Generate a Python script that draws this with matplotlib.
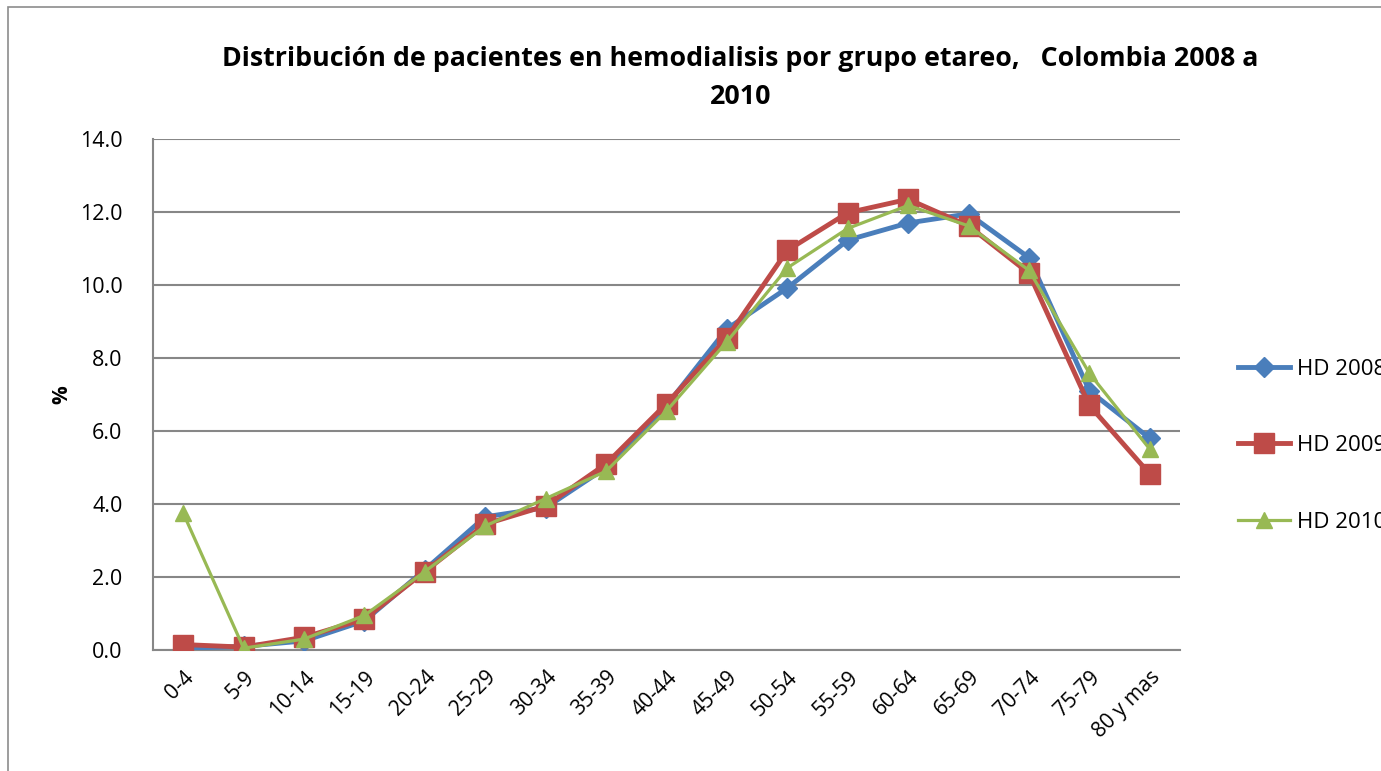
import numpy as np
import matplotlib.pyplot as plt
from matplotlib.patches import Rectangle

grupos = ["0-4", "5-9", "10-14", "15-19", "20-24", "25-29", "30-34", "35-39",
          "40-44", "45-49", "50-54", "55-59", "60-64", "65-69", "70-74",
          "75-79", "80 y mas"]
hd_2008 = [0.05, 0.1, 0.25, 0.8, 2.2, 3.65, 3.9, 5.0, 6.7, 8.8, 9.92,
           11.23, 11.7, 11.95, 10.75, 7.1, 5.8]
hd_2009 = [0.15, 0.08, 0.35, 0.85, 2.15, 3.45, 3.95, 5.1, 6.75, 8.55, 10.95,
           11.98, 12.35, 11.62, 10.32, 6.7, 4.82]
hd_2010 = [3.75, 0.05, 0.3, 0.95, 2.15, 3.4, 4.15, 4.9, 6.55, 8.45, 10.47,
           11.55, 12.18, 11.62, 10.4, 7.58, 5.5]

plt.rcParams['font.family'] = ['Open Sans', 'DejaVu Sans']

fig = plt.figure(figsize=(13.81, 7.71), dpi=100)
ax = fig.add_axes([0.1108, 0.1569, 0.7437, 0.6628])

# marco del grafico
fig.patches.append(Rectangle((8 / 1381, -0.1), 1.2, 1 - 7 / 771 + 0.1,
                             transform=fig.transFigure, fill=False,
                             edgecolor='#8c8c8c', linewidth=1.2))

x = np.arange(len(grupos))
ax.plot(x, hd_2008, color='#4A7EBB', lw=3.5, marker='D', ms=10,
        label='HD 2008', zorder=3)
ax.plot(x, hd_2009, color='#BE4B48', lw=3.5, marker='s', ms=14,
        label='HD 2009', zorder=4)
ax.plot(x, hd_2010, color='#98B954', lw=2.3, marker='^', ms=11,
        label='HD 2010', zorder=5)

ax.set_xlim(-0.5, len(grupos) - 0.5)
ax.set_ylim(0, 14)
ax.set_yticks(np.arange(0, 15, 2))
ax.set_yticklabels([f"{v:.1f}" for v in np.arange(0, 15, 2)], fontsize=15.5)
ax.set_xticks(x)
ax.set_xticklabels(grupos, rotation=45, ha='right', rotation_mode='anchor',
                   fontsize=15)
ax.tick_params(length=0, pad=22)
ax.tick_params(axis='x', pad=12)
ax.grid(axis='y', color='#878787', lw=1.5)
ax.set_axisbelow(True)
for s in ['top', 'right']:
    ax.spines[s].set_visible(False)
for s in ['left', 'bottom']:
    ax.spines[s].set_color('#878787')
    ax.spines[s].set_linewidth(1.5)

ax.set_ylabel('%', fontsize=15, fontweight='bold', labelpad=5)

fig.text(0.536, 0.899,
         "Distribución de pacientes en hemodialisis por grupo etareo,   Colombia 2008 a\n2010",
         ha='center', va='center', fontsize=19.3, fontweight='bold',
         linespacing=1.6)

fig.legend(loc='upper left', bbox_to_anchor=(0.8964, 0.535), frameon=False,
           fontsize=16, handlelength=2.36, labelspacing=2.5, handletextpad=0.3,
           borderaxespad=0, borderpad=0)

fig.savefig('out.png', dpi=100)
